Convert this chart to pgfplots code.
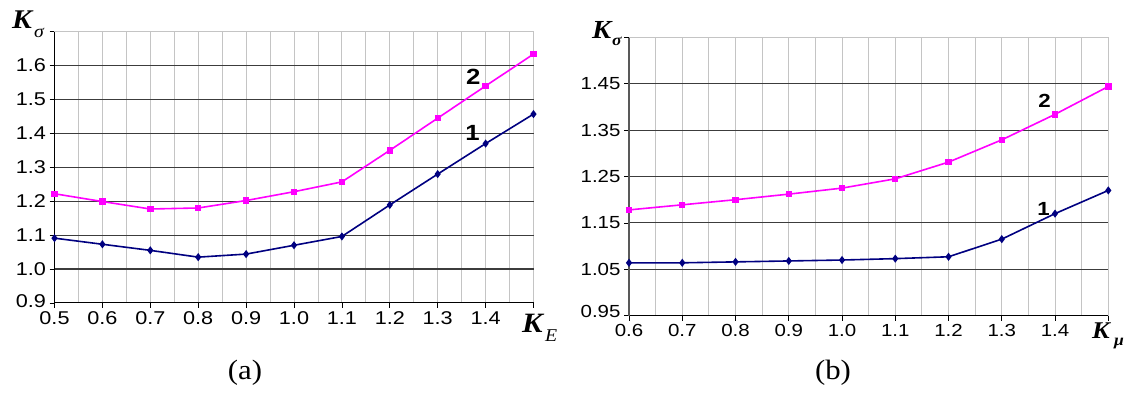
\documentclass[border=0pt]{standalone}
\usepackage{pgfplots}
\pgfplotsset{compat=1.18}
\usepackage{fontspec}
\setmainfont{Liberation Sans}[FakeStretch=1.17]
\newfontfamily\tnr{Liberation Serif}[FakeStretch=1.1]

\definecolor{pinkline}{RGB}{255,0,255}
\definecolor{navyline}{RGB}{0,0,128}
\definecolor{vgrid}{RGB}{196,196,196}
\definecolor{hgrid}{RGB}{60,60,60}

\pgfplotsset{
  panel/.style={
    scale only axis, anchor=south west, clip=false,
    axis x line*=bottom, axis y line*=left,
    tick align=outside, xtick pos=bottom, ytick pos=left,
    major tick length=5pt, minor tick length=0pt,
    tick style={black, line width=0.8pt},
    axis line style={black, line width=1pt},
    xmajorgrids, xminorgrids, ymajorgrids,
    minor x tick num=1,
    major x grid style={vgrid, line width=0.9pt},
    minor x grid style={vgrid, line width=0.9pt},
    major y grid style={hgrid, line width=1.1pt},
    extra y tick style={grid=none},
  },
  c1/.style={navyline, line width=1.6pt, mark=diamond*, mark size=2.8pt},
  c2/.style={pinkline, line width=1.6pt, mark=square*, mark size=2.4pt},
}

\begin{document}
\begin{tikzpicture}
\path[use as bounding box] (0,0) rectangle (1126pt,392pt);

% (a): K_sigma versus K_E
\begin{axis}[panel,
  at={(54.5pt,89.1pt)}, width=479pt, height=271.2pt,
  ticklabel style={font=\fontsize{18.5}{22}\selectfont},
  xmin=0.5, xmax=1.5, ymin=0.9, ymax=1.7,
  xtick={0.5,0.6,0.7,0.8,0.9,1.0,1.1,1.2,1.3,1.4,1.5},
  xticklabels={0.5,0.6,0.7,0.8,0.9,1.0,1.1,1.2,1.3,1.4,},
  ytick={0.9,1.0,1.1,1.2,1.3,1.4,1.5,1.6},
  yticklabels={\raisebox{4pt}{0.9},1.0,1.1,1.2,1.3,1.4,1.5,1.6},
  extra y ticks={1.7}, extra y tick labels={},
]
\draw[vgrid, line width=0.9pt] (rel axis cs:0,1) -- (rel axis cs:1,1);
\addplot[c1] coordinates {
  (0.5,1.091) (0.6,1.073) (0.7,1.055) (0.8,1.035) (0.9,1.044) (1.0,1.070)
  (1.1,1.096) (1.2,1.189) (1.3,1.280) (1.4,1.370) (1.5,1.457)};
\addplot[c2] coordinates {
  (0.5,1.222) (0.6,1.199) (0.7,1.177) (0.8,1.180) (0.9,1.202) (1.0,1.228)
  (1.1,1.257) (1.2,1.350) (1.3,1.445) (1.4,1.540) (1.5,1.634)};
\end{axis}

% (b): K_sigma versus K_mu
\begin{axis}[panel,
  at={(629pt,76.3pt)}, width=479.3pt, height=278.4pt,
  ticklabel style={font=\fontsize{17.5}{21}\selectfont},
  xmin=0.6, xmax=1.5, ymin=0.95, ymax=1.55,
  xtick={0.6,0.7,0.8,0.9,1.0,1.1,1.2,1.3,1.4,1.5},
  xticklabels={0.6,0.7,0.8,0.9,1.0,1.1,1.2,1.3,1.4,},
  ytick={0.95,1.05,1.15,1.25,1.35,1.45},
  yticklabels={\raisebox{8pt}{0.95},1.05,1.15,1.25,1.35,1.45},
  extra y ticks={1.55}, extra y tick labels={},
  y axis line style={black!65, line width=1.3pt},
]
\draw[vgrid, line width=0.9pt] (rel axis cs:0,1) -- (rel axis cs:1,1);
\addplot[c1] coordinates {
  (0.6,1.064) (0.7,1.064) (0.8,1.066) (0.9,1.068) (1.0,1.070)
  (1.1,1.073) (1.2,1.077) (1.3,1.115) (1.4,1.170) (1.5,1.220)};
\addplot[c2] coordinates {
  (0.6,1.178) (0.7,1.189) (0.8,1.200) (0.9,1.212) (1.0,1.225)
  (1.1,1.245) (1.2,1.281) (1.3,1.329) (1.4,1.384) (1.5,1.444)};
\end{axis}

% axis names
\node[anchor=base west, inner sep=0] at (12pt,363pt) {\tnr\bfseries\itshape\fontsize{27}{30}\selectfont K};
\node[anchor=base west, inner sep=0] at (34pt,355pt) {\tnr\itshape\fontsize{18}{20}\selectfont σ};
\node[anchor=base west, inner sep=0] at (522pt,60pt) {\tnr\bfseries\itshape\fontsize{28}{30}\selectfont K};
\node[anchor=base west, inner sep=0] at (545pt,51pt) {\tnr\itshape\fontsize{18}{20}\selectfont E};
\node[anchor=base west, inner sep=0] at (592pt,354pt) {\tnr\bfseries\itshape\fontsize{26}{30}\selectfont K};
\node[anchor=base west, inner sep=0] at (612pt,347pt) {\tnr\bfseries\itshape\fontsize{16}{20}\selectfont σ};
\node[anchor=base west, inner sep=0] at (1092pt,54pt) {\tnr\bfseries\itshape\fontsize{24}{30}\selectfont K};
\node[anchor=base west, inner sep=0] at (1114pt,47pt) {\tnr\bfseries\itshape\fontsize{16}{20}\selectfont μ};

% curve numbers
\node[anchor=base, inner sep=0] at (473.3pt,308pt) {\bfseries\fontsize{22}{24}\selectfont 2};
\node[anchor=base, inner sep=0] at (472.5pt,252pt) {\bfseries\fontsize{22}{24}\selectfont 1};
\node[anchor=base, inner sep=0] at (1044.5pt,285pt) {\bfseries\fontsize{19}{22}\selectfont 2};
\node[anchor=base, inner sep=0] at (1043.5pt,177pt) {\bfseries\fontsize{19}{22}\selectfont 1};

% panel captions
\node[anchor=base, inner sep=0] at (245pt,13pt) {\tnr\fontsize{28}{30}\selectfont (a)};
\node[anchor=base, inner sep=0] at (833pt,13pt) {\tnr\fontsize{28}{30}\selectfont (b)};
\end{tikzpicture}
\end{document}
